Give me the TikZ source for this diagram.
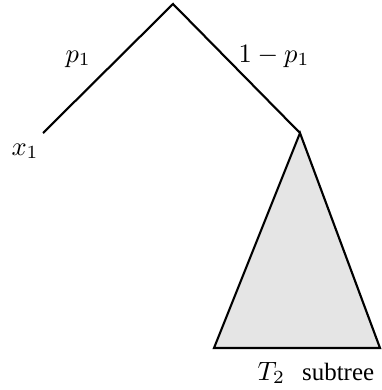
\documentclass[tikz,border=0pt]{standalone}
\usepackage{fontspec}
\newfontfamily\subtreefont{Liberation Serif}
\usepackage{tikz}
\usetikzlibrary{positioning}

\begin{document}
\begin{tikzpicture}[
  x=0.377pt, y=-0.377pt,
  every node/.style={font=\normalsize, inner sep=0pt},
  branch/.style={line width=0.8pt},
  subtri/.style={line width=0.8pt, fill=black!10, line join=miter},
  lbl/.style={anchor=base west}
]
\useasboundingbox (0,0) rectangle (381,390);

\coordinate (root) at (173,4);
\coordinate (x1)   at (43,133);
\coordinate (t2)   at (300,133);
\coordinate (t2l)  at (214,348);
\coordinate (t2r)  at (380,348);

\draw[branch] (x1) -- (root) -- (t2);
\draw[subtri] (t2) -- (t2l) -- (t2r) -- cycle;

\node[lbl] (plbl)  at (65,62)  {$p_1$};
\node[lbl] (qlbl)  at (238,62) {$1-p_1$};
\node[lbl] (x1lbl) at (11,155) {$x_1$};
\node[lbl] (t2lbl) at (257,380) {$T_2$\hspace{6.5pt}{\subtreefont\fontsize{9.4pt}{11pt}\selectfont subtree}};

\end{tikzpicture}
\end{document}
